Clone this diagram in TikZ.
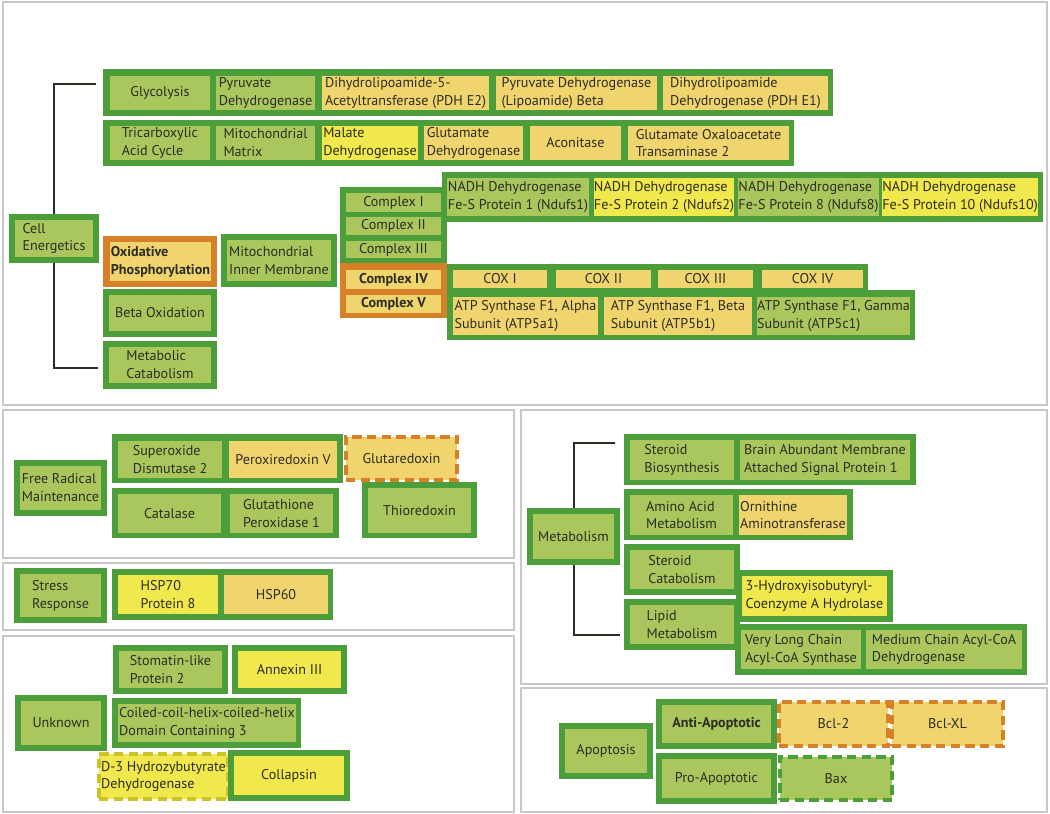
\documentclass[tikz,border=0pt]{standalone}
\usepackage{fontspec}
\setmainfont{PT Sans}
\definecolor{DG}{RGB}{76,158,58}
\definecolor{LG}{RGB}{170,199,94}
\definecolor{YO}{RGB}{240,212,110}
\definecolor{BY}{RGB}{240,232,76}
\definecolor{OR}{RGB}{214,128,40}
\definecolor{DY}{RGB}{205,195,40}
\definecolor{TX}{RGB}{45,45,35}
\definecolor{PG}{RGB}{200,200,200}
\newcommand\dfont{\fontsize{10.6}{13.4}\selectfont}
% #1 style, #2 name, #3 x1, #4 y1, #5 x2, #6 y2 (pixels), #7 text
\newcommand\bx[7]{%
  \pgfmathsetmacro\bxw{(#5-#3)*0.75}%
  \pgfmathsetmacro\bxh{(#6-#4)*0.75}%
  \node[#1, minimum width=\bxw pt, minimum height=\bxh pt] (#2) at ({(#3+#5)/2},{(#4+#6)/2}) {#7};}
\begin{document}
\begin{tikzpicture}[x=0.75pt,y=-0.75pt,
  grp/.style={fill=DG, draw=none, inner sep=0pt, outer sep=0pt},
  org/.style={fill=OR, draw=none, inner sep=0pt, outer sep=0pt},
  c/.style={inner sep=0pt, outer sep=0pt, text=TX, align=left, font=\dfont},
  lg/.style={c, fill=LG}, yo/.style={c, fill=YO}, by/.style={c, fill=BY},
  bold/.style={font=\dfont\bfseries},
  dsh/.style={c, line width=3pt, dash pattern=on 7pt off 4pt},
  conn/.style={draw=TX, line width=1.5pt},
  panel/.style={draw=PG, line width=1.6pt, inner sep=0pt, outer sep=0pt}]
\useasboundingbox (0,0) rectangle (1050,814);
\fill[white] (0,0) rectangle (1050,814);
% panels
\bx{panel}{pTop}{3}{2}{1047}{405}{}
\bx{panel}{pFR}{3}{410}{514}{558}{}
\bx{panel}{pSR}{3}{563}{514}{630}{}
\bx{panel}{pUN}{3}{636}{514}{812}{}
\bx{panel}{pMET}{521}{410}{1047}{684}{}
\bx{panel}{pAPO}{521}{688}{1047}{812}{}

% ---------- Cell energetics ----------
\bx{grp}{ceG}{9}{214}{99}{263}{}
\bx{lg}{ce}{15}{220}{93}{257}{Cell\\Energetics}

\bx{grp}{row1}{103}{69}{833}{116}{}
\bx{lg}{glyc}{110}{76}{210}{110}{Glycolysis}
\bx{lg}{pdh}{216}{76}{315}{110}{Pyruvate\\Dehydrogenase}
\bx{yo}{dlat}{322}{76}{489}{110}{Dihydrolipoamide-5-\\Acetyltransferase (PDH E2)}
\bx{yo}{pdhb}{496}{76}{657}{110}{Pyruvate Dehydrogenase\\(Lipoamide) Beta}
\bx{yo}{dld}{663}{76}{828}{110}{Dihydrolipoamide\\Dehydrogenase (PDH E1)}

\bx{grp}{row2}{103}{120}{794}{166}{}
\bx{lg}{tca}{110}{126}{210}{160}{Tricarboxylic\\Acid Cycle}
\bx{lg}{mm}{216}{126}{315}{160}{Mitochondrial\\Matrix}
\bx{by}{mdh}{322}{126}{418}{160}{Malate\\Dehydrogenase}
\bx{yo}{gdh}{424}{126}{523}{160}{Glutamate\\Dehydrogenase}
\bx{yo}{aco}{530}{126}{621}{160}{Aconitase}
\bx{yo}{got}{628}{126}{789}{160}{Glutamate Oxaloacetate\\Transaminase 2}

\bx{org}{oxG}{103}{236}{217}{287}{}
\bx{yo,bold}{ox}{110}{242}{211}{281}{Oxidative\\Phosphorylation}
\bx{grp}{mimG}{221}{234}{337}{287}{}
\bx{lg}{mim}{227}{240}{331}{281}{Mitochondrial\\Inner Membrane}
\bx{grp}{boG}{103}{289}{217}{337}{}
\bx{lg}{bo}{109}{295}{211}{331}{Beta Oxidation}
\bx{grp}{mcG}{103}{341}{217}{389}{}
\bx{lg}{mc}{109}{347}{211}{383}{Metabolic\\Catabolism}

\bx{grp}{cxG}{340}{187}{447}{263}{}
\bx{org}{cxO}{340}{263}{447}{318}{}
\bx{grp}{nadhG}{442}{172}{1043}{222}{}
\bx{lg}{c1}{346}{193}{441}{212}{Complex I}
\bx{lg}{c2}{346}{217}{441}{235}{Complex II}
\bx{lg}{c3}{346}{241}{441}{258}{Complex III}
\bx{yo,bold}{c4}{346}{270}{441}{289}{Complex IV}
\bx{yo,bold}{c5}{346}{295}{441}{313}{Complex V}

\bx{lg}{n1}{447}{178}{589}{216}{NADH Dehydrogenase\\Fe-S Protein 1 (Ndufs1)}
\bx{by}{n2}{594}{178}{734}{216}{NADH Dehydrogenase\\Fe-S Protein 2 (Ndufs2)}
\bx{lg}{n8}{739}{178}{878}{216}{NADH Dehydrogenase\\Fe-S Protein 8 (Ndufs8)}
\bx{by}{n10}{883}{178}{1037}{216}{NADH Dehydrogenase\\Fe-S Protein 10 (Ndufs10)}

\bx{grp}{coxG}{447}{264}{868}{292}{}
\bx{grp}{atpG}{447}{290}{915}{340}{}
\bx{yo}{cox1}{453}{270}{547}{288}{COX I}
\bx{yo}{cox2}{556}{270}{651}{288}{COX II}
\bx{yo}{cox3}{658}{270}{753}{288}{COX III}
\bx{yo}{cox4}{762}{270}{863}{288}{COX IV}
\bx{yo}{atpa}{453}{297}{598}{335}{ATP Synthase F1, Alpha\\Subunit (ATP5a1)}
\bx{yo}{atpb}{604}{297}{752}{335}{ATP Synthase F1, Beta\\Subunit (ATP5b1)}
\bx{lg}{atpc}{757}{297}{910}{335}{ATP Synthase F1, Gamma\\Subunit (ATP5c1)}

\coordinate (b1) at (96,84);
\coordinate (b2) at (98,368);
\draw[conn] (ceG.north) |- (b1);
\draw[conn] (ceG.south) |- (b2);

% ---------- Free radical ----------
\bx{grp}{frG}{14}{460}{107}{516}{}
\bx{lg}{fr}{20}{466}{101}{510}{Free Radical\\Maintenance}
\bx{grp}{fr1G}{112}{434}{343}{483}{}
\bx{lg}{sod}{118}{441}{222}{478}{Superoxide\\Dismutase 2}
\bx{yo}{prx}{229}{441}{337}{478}{Peroxiredoxin V}
\bx{grp}{fr2G}{112}{488}{339}{538}{}
\bx{lg}{cat}{118}{494}{221}{533}{Catalase}
\bx{lg}{gpx}{230}{494}{333}{533}{Glutathione\\Peroxidase 1}
\bx{yo,dsh,draw=OR}{grx}{346}{437}{457}{480}{Glutaredoxin}
\bx{grp}{trxG}{362}{482}{477}{538}{}
\bx{lg}{trx}{368}{488}{471}{533}{Thioredoxin}

% ---------- Stress ----------
\bx{grp}{srG}{14}{568}{107}{623}{}
\bx{lg}{sr}{20}{574}{101}{617}{Stress\\Response}
\bx{grp}{hspG}{112}{569}{333}{620}{}
\bx{by}{hsp70}{118}{575}{218}{614}{HSP70\\Protein 8}
\bx{yo}{hsp60}{224}{575}{328}{614}{HSP60}

% ---------- Unknown ----------
\bx{grp}{stomG}{113}{645}{228}{694}{}
\bx{lg}{stom}{119}{651}{222}{688}{Stomatin-like\\Protein 2}
\bx{grp}{anxG}{232}{645}{347}{694}{}
\bx{by}{anx}{238}{651}{341}{688}{Annexin III}
\bx{grp}{unG}{15}{695}{107}{751}{}
\bx{lg}{un}{21}{701}{101}{745}{Unknown}
\bx{grp}{chG}{112}{698}{301}{748}{}
\bx{lg}{ch}{118}{704}{296}{742}{Coiled-coil-helix-coiled-helix\\Domain Containing 3}
\bx{by,dsh,draw=DY}{bdh}{99}{754}{228}{799}{D-3 Hydrozybutyrate\\Dehydrogenase}
\bx{grp}{colG}{228}{750}{350}{801}{}
\bx{by}{col}{234}{756}{344}{795}{Collapsin}

% ---------- Metabolism ----------
\bx{grp}{metG}{527}{508}{620}{565}{}
\bx{lg}{met}{533}{514}{614}{559}{Metabolism}
\bx{grp}{sbG}{624}{434}{916}{485}{}
\bx{lg}{sb}{630}{440}{734}{480}{Steroid\\Biosynthesis}
\bx{lg}{basp}{740}{440}{910}{480}{Brain Abundant Membrane\\Attached Signal Protein 1}
\bx{grp}{aaG}{624}{489}{853}{540}{}
\bx{lg}{aa}{630}{495}{733}{535}{Amino Acid\\Metabolism}
\bx{yo}{oat}{739}{495}{847}{535}{Ornithine\\Aminotransferase}
\bx{grp}{scG}{624}{544}{740}{595}{}
\bx{lg}{sc}{630}{550}{734}{589}{Steroid\\Catabolism}
\bx{grp}{hibG}{736}{570}{893}{622}{}
\bx{by}{hib}{742}{576}{887}{616}{3-Hydroxyisobutyryl-\\Coenzyme A Hydrolase}
\bx{grp}{lmG}{624}{599}{740}{650}{}
\bx{lg}{lm}{630}{605}{734}{644}{Lipid\\Metabolism}
\bx{grp}{vlG}{735}{624}{1027}{675}{}
\bx{lg}{vl}{741}{630}{861}{669}{Very Long Chain\\Acyl-CoA Synthase}
\bx{lg}{mcad}{866}{630}{1022}{669}{Medium Chain Acyl-CoA\\Dehydrogenase}
\coordinate (m1) at (615,443);
\coordinate (m2) at (620,635);
\draw[conn] (metG.north) |- (m1);
\draw[conn] (metG.south) |- (m2);

% ---------- Apoptosis ----------
\bx{grp}{apoG}{559}{723}{653}{779}{}
\bx{lg}{apo}{565}{729}{647}{773}{Apoptosis}
\bx{grp}{antiG}{656}{699}{777}{749}{}
\bx{lg,bold}{anti}{662}{705}{771}{743}{Anti-Apoptotic}
\bx{yo,dsh,draw=OR}{bcl2}{779}{702}{888}{746}{Bcl-2}
\bx{yo,dsh,draw=OR}{bclxl}{892}{702}{1003}{746}{Bcl-XL}
\bx{grp}{proG}{656}{753}{777}{804}{}
\bx{lg}{pro}{662}{759}{771}{798}{Pro-Apoptotic}
\bx{lg,dsh,draw=DG}{bax}{780}{757}{892}{800}{Bax}
\end{tikzpicture}
\end{document}
